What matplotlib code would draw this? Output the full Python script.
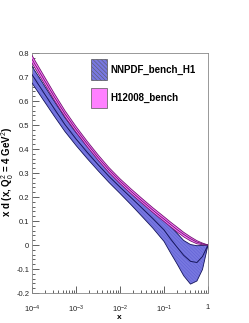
import numpy as np
import matplotlib
matplotlib.use("Agg")
import matplotlib.pyplot as plt
from matplotlib.patches import Rectangle
from matplotlib.ticker import LogLocator, MultipleLocator, FixedLocator

plt.rcParams['font.family'] = ['Liberation Sans', 'DejaVu Sans']
plt.rcParams['hatch.linewidth'] = 0.35
plt.rcParams['mathtext.fontset'] = 'custom'
plt.rcParams['mathtext.rm'] = 'Liberation Sans'
plt.rcParams['mathtext.it'] = 'Liberation Sans'
plt.rcParams['mathtext.bf'] = 'Liberation Sans:bold'

# ---- data ----
x_vals = [1e-4, 1.8e-4, 3.2e-4, 5.6e-4, 1e-3, 1.8e-3, 3.2e-3, 5.6e-3, 1e-2, 1.8e-2,
          3.2e-2, 5.6e-2, 0.1, 0.14, 0.2, 0.28, 0.4, 0.56, 0.75, 1.0]

nnpdf_central = [0.710, 0.638, 0.568, 0.502, 0.442, 0.386, 0.334, 0.286, 0.241, 0.197,
                 0.153, 0.110, 0.063, 0.026, -0.010, -0.043, -0.068, -0.073, -0.048, 0.0]
nnpdf_upper   = [0.745, 0.671, 0.599, 0.531, 0.469, 0.412, 0.359, 0.311, 0.267, 0.227,
                 0.188, 0.150, 0.108, 0.078, 0.048, 0.019, 0.002, -0.003, -0.002, 0.0]
nnpdf_lower   = [0.675, 0.605, 0.537, 0.473, 0.415, 0.360, 0.309, 0.261, 0.215, 0.167,
                 0.118, 0.070, 0.015, -0.032, -0.080, -0.128, -0.163, -0.150, -0.102, 0.0]

h1_central = [0.774, 0.695, 0.618, 0.547, 0.482, 0.421, 0.364, 0.313, 0.266, 0.223,
              0.183, 0.145, 0.108, 0.086, 0.064, 0.044, 0.026, 0.012, 0.005, 0.0]
h1_upper   = [0.790, 0.710, 0.632, 0.560, 0.494, 0.432, 0.375, 0.323, 0.276, 0.233,
              0.193, 0.155, 0.118, 0.096, 0.074, 0.053, 0.034, 0.018, 0.008, 0.0]
h1_lower   = [0.758, 0.680, 0.604, 0.534, 0.470, 0.409, 0.353, 0.302, 0.256, 0.213,
              0.173, 0.135, 0.098, 0.076, 0.054, 0.034, 0.017, 0.005, 0.001, 0.0]

labels = ["NNPDF_bench_H1", "H12008_bench"]

# ---- figure ----
W, H = 249, 323
fig = plt.figure(figsize=(W / 100, H / 100), dpi=100)
fig.patch.set_facecolor('white')
ax = fig.add_axes([32 / W, 1 - 293 / H, (208 - 32) / W, (293 - 53) / H])

blue_fill = '#7878e0'
blue_hatch = '#5c5cd2'
blue_edge = '#15155a'
pink_fill = '#ff80ff'
pink_hatch = '#e858e8'
pink_edge = '#701a70'

hatch = '\\\\\\\\\\\\\\\\\\\\'
ax.fill_between(x_vals, nnpdf_lower, nnpdf_upper, facecolor=blue_fill, edgecolor=blue_hatch,
                hatch=hatch, linewidth=0, zorder=2)
ax.plot(x_vals, nnpdf_upper, color=blue_edge, lw=0.6, zorder=3)
ax.plot(x_vals, nnpdf_lower, color=blue_edge, lw=0.6, zorder=3)
ax.plot(x_vals, nnpdf_central, color=blue_edge, lw=0.7, zorder=3)

ax.fill_between(x_vals, h1_lower, h1_upper, facecolor=pink_fill, edgecolor=pink_hatch,
                hatch=hatch, linewidth=0, zorder=4)
ax.plot(x_vals, h1_upper, color=pink_edge, lw=0.6, zorder=5)
ax.plot(x_vals, h1_lower, color=pink_edge, lw=0.6, zorder=5)
ax.plot(x_vals, h1_central, color=pink_edge, lw=0.6, zorder=5)

ax.set_xscale('log')
ax.set_xlim(1e-4, 1)
ax.set_ylim(-0.2, 0.8)

ax.yaxis.set_minor_locator(MultipleLocator(0.02))
ax.set_yticks(np.round(np.arange(-0.2, 0.81, 0.1), 1))
ax.set_yticklabels(['-0.2', '-0.1', '0', '0.1', '0.2', '0.3', '0.4', '0.5', '0.6', '0.7', '0.8'])
ax.xaxis.set_major_locator(FixedLocator([1e-4, 1e-3, 1e-2, 1e-1, 1]))
ax.set_xticklabels([r'$10^{-4}$', r'$10^{-3}$', r'$10^{-2}$', r'$10^{-1}$', '1'])
ax.xaxis.set_minor_locator(LogLocator(base=10, subs=np.arange(2, 10), numticks=20))

ax.tick_params(axis='both', which='both', direction='in', top=False, right=False,
               labelsize=5.5, colors='#222222', width=0.5)
ax.tick_params(axis='both', which='major', length=5)
ax.tick_params(axis='both', which='minor', length=2.5)
ax.tick_params(axis='x', which='major', pad=8)
ax.tick_params(axis='y', which='major', pad=2)

for s in ax.spines.values():
    s.set_color('#888888')
    s.set_linewidth(0.6)

ax.set_xlabel('x', fontsize=6, fontweight='bold', va='top')
ax.xaxis.set_label_coords((119 - 32) / 176, (293 - 314) / 240)
ax.set_ylabel(r'x $\bar{\mathbf{d}}$ (x, Q$_0^2$ = 4 GeV$^2$)', fontsize=7, fontweight='bold')
ax.yaxis.set_label_coords((16 - 32) / 176, (293 - 172) / 240)

# legend (manual)
fig.patches.append(Rectangle((91 / W, 1 - 80 / H), 16 / W, 21 / H, transform=fig.transFigure,
                             facecolor=blue_fill, edgecolor='#555555', hatch='\\\\\\\\\\\\\\\\', linewidth=0.5))
fig.patches.append(Rectangle((91 / W, 1 - 108 / H), 16 / W, 20 / H, transform=fig.transFigure,
                             facecolor=pink_fill, edgecolor='#555555', linewidth=0.5))
fig.text(110 / W, 1 - 70 / H, labels[0], fontsize=7, fontweight='bold', va='center', ha='left')
fig.text(110 / W, 1 - 98 / H, labels[1], fontsize=7, fontweight='bold', va='center', ha='left')

fig.savefig('out.png', dpi=100)
